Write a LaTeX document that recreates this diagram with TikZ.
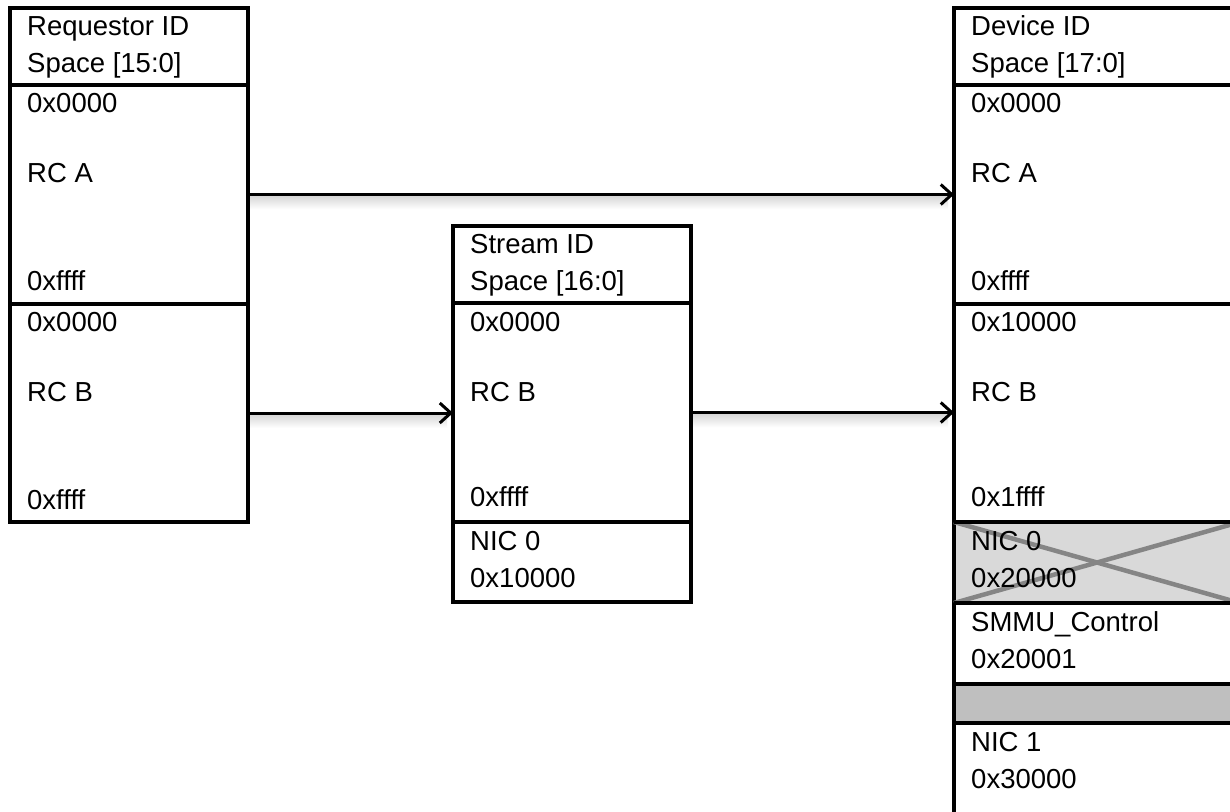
\documentclass[tikz,border=0pt]{standalone}
\usepackage{fontspec}
\setmainfont{Liberation Sans}
\usetikzlibrary{arrows.meta}
\definecolor{lightfill}{HTML}{D9D9D9}
\definecolor{midfill}{HTML}{BFBFBF}
\definecolor{xgray}{HTML}{858585}
\begin{document}
\begin{tikzpicture}[x=1pt,y=-1pt,
  sec/.style={draw,line width=3.2pt,anchor=north west,inner sep=0pt,outer sep=0pt},
  lbl/.style={anchor=base west,inner sep=0pt,font=\fontsize{27.5}{33}\selectfont},
  arr/.style={line width=3pt,-{Straight Barb[length=11pt,width=20pt,line width=3pt]}},
  shadowband/.style={top color=black!15,bottom color=white,draw=none}]
\useasboundingbox (0,0) rectangle (1230,811);
\clip (0,0) rectangle (1230,811);
\fill[white] (0,0) rectangle (1230,811);
% left column
\node[sec,minimum width=238pt,minimum height=77pt] (lH) at (10,8) {};
\node[sec,minimum width=238pt,minimum height=219pt] (lA) at (10,85) {};
\node[sec,minimum width=238pt,minimum height=218pt] (lB) at (10,304) {};
% middle column
\node[sec,minimum width=238pt,minimum height=77pt] (mH) at (453,226) {};
\node[sec,minimum width=238pt,minimum height=219pt] (mB) at (453,303) {};
\node[sec,minimum width=238pt,minimum height=80pt] (mN) at (453,522) {};
% right column
\node[sec,minimum width=286pt,minimum height=77pt] (rH) at (954,8) {};
\node[sec,minimum width=286pt,minimum height=219pt] (rA) at (954,85) {};
\node[sec,minimum width=286pt,minimum height=218pt] (rB) at (954,304) {};
\node[sec,fill=lightfill,minimum width=286pt,minimum height=81pt] (rN0) at (954,522) {};
\node[sec,minimum width=286pt,minimum height=81pt] (rS) at (954,603) {};
\node[sec,fill=midfill,minimum width=286pt,minimum height=39pt] (rG) at (954,684) {};
\node[sec,minimum width=286pt,minimum height=120pt] (rN1) at (954,723) {};
% cross on NIC 0
\draw[xgray,line width=4.5pt] (rN0.north west) -- (rN0.south east);
\draw[xgray,line width=4.5pt] (rN0.south west) -- (rN0.north east);
\draw[line width=3.2pt] (rN0.south west) -- (rN0.south east);
\draw[line width=3.2pt] (rN0.north west) -- (rN0.north east);
% left texts
\node[lbl] (t1) at (27,35) {Requestor ID};
\node[lbl] (t2) at (27,72) {Space [15:0]};
\node[lbl] (t3) at (27,112) {0x0000};
\node[lbl] (t4) at (27,182) {RC A};
\node[lbl] (t5) at (27,290) {0xffff};
\node[lbl] (t6) at (27,331) {0x0000};
\node[lbl] (t7) at (27,401) {RC B};
\node[lbl] (t8) at (27,509) {0xffff};
% middle texts
\node[lbl] (m1) at (470,253) {Stream ID};
\node[lbl] (m2) at (470,290) {Space [16:0]};
\node[lbl] (m3) at (470,331) {0x0000};
\node[lbl] (m4) at (470,401) {RC B};
\node[lbl] (m5) at (470,506) {0xffff};
\node[lbl] (m6) at (470,550) {NIC 0};
\node[lbl] (m7) at (470,587) {0x10000};
% right texts
\node[lbl] (r1) at (971,35) {Device ID};
\node[lbl] (r2) at (971,72) {Space [17:0]};
\node[lbl] (r3) at (971,112) {0x0000};
\node[lbl] (r4) at (971,182) {RC A};
\node[lbl] (r5) at (971,290) {0xffff};
\node[lbl] (r6) at (971,331) {0x10000};
\node[lbl] (r7) at (971,401) {RC B};
\node[lbl] (r8) at (971,506) {0x1ffff};
\node[lbl] (r9) at (971,550) {NIC 0};
\node[lbl] (r10) at (971,587) {0x20000};
\node[lbl] (r11) at (971,631) {SMMU\_Control};
\node[lbl] (r12) at (971,668) {0x20001};
\node[lbl] (r13) at (971,751) {NIC 1};
\node[lbl] (r14) at (971,788) {0x30000};
% arrow shadows
\shade[shadowband] ([yshift=-2pt,xshift=2pt]lA.east) rectangle ([yshift=-15pt,xshift=-6pt]lA.east -| rA.west);
\shade[shadowband] ([yshift=-2pt,xshift=2pt]lB.east) rectangle ([yshift=-15pt,xshift=-6pt]lB.east -| mB.west);
\shade[shadowband] ([yshift=-2pt,xshift=2pt]mB.east) rectangle ([yshift=-15pt,xshift=-6pt]mB.east -| rB.west);
% arrows
\draw[arr] (lA.east) -- (lA.east -| rA.west);
\draw[arr] (lB.east) -- (lB.east -| mB.west);
\draw[arr] (mB.east) -- (mB.east -| rB.west);
\end{tikzpicture}
\end{document}
